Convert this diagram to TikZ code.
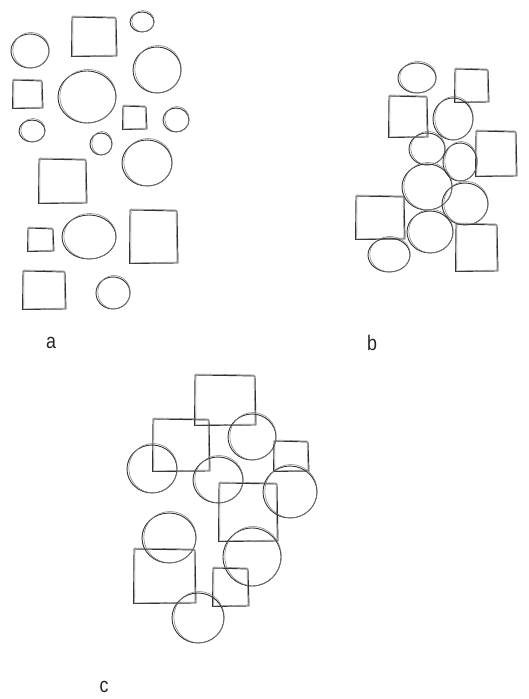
\documentclass[tikz,border=0pt]{standalone}
\usepackage{fontspec}
\setmainfont{Liberation Sans}
\tikzset{
  ink/.style={draw=black!80, line width=0.9pt, line join=round},
  inkb/.style={draw=black!50, line width=0.55pt, line join=round},
  lbl/.style={font=\fontsize{21}{23}\selectfont, text=black!85, inner sep=0pt, xscale=0.85}
}
\newcommand\skc[4]{%
  \draw[ink] (#1,#2) ellipse ({#3*1pt} and {#4*1pt});
  \draw[inkb] (#1+1,#2-0.8) ellipse ({(#3-0.8)*1pt} and {(#4+0.7)*1pt});}
\newcommand\sks[4]{%
  \draw[ink] (#1,#2) -- (#3,#2+1) -- (#3+1,#4) -- (#1-0.5,#4+0.5) -- cycle;
  \draw[inkb] (#1+1,#2-1) -- (#3-1,#2) -- (#3,#4-1) -- (#1+0.7,#4) -- cycle;}
\begin{document}
\begin{tikzpicture}[x=1pt,y=-1pt]
\fill[white] (0,0) rectangle (529,699);
\useasboundingbox (0,0) rectangle (529,699);
% ---- panel a ----
\skc{30}{51}{19}{17}
\sks{72}{17}{116}{56}
\skc{142}{22}{12}{10}
\skc{157}{70}{24}{23}
\sks{13}{80}{42}{108}
\skc{87}{97}{29}{26}
\sks{123}{106}{146}{129}
\skc{176}{120}{13}{12}
\skc{32}{131}{13}{11}
\skc{101}{144}{11}{11}
\sks{39}{159}{86}{203}
\skc{147}{163}{25}{23}
\sks{28}{228}{53}{251}
\skc{89}{237}{27}{22}
\sks{130}{210}{177}{263}
\sks{23}{271}{65}{309}
\skc{113}{293}{17}{16}
% ---- panel b ----
\skc{417}{78}{19}{15}
\sks{455}{69}{488}{102}
\sks{389}{96}{427}{137}
\skc{453}{119}{20}{21}
\sks{476}{131}{516}{176}
\skc{427}{149}{18}{16}
\skc{460}{162}{17}{19}
\skc{427}{187}{25}{23}
\skc{465}{204}{23}{21}
\sks{356}{196}{404}{239}
\skc{430}{232}{23}{21}
\sks{456}{224}{497}{271}
\skc{389}{255}{21}{17}
% ---- panel c ----
\sks{195}{375}{255}{425}
\sks{153}{419}{209}{471}
\skc{252}{437}{24}{23}
\sks{274}{441}{308}{471}
\skc{152}{469}{25}{24}
\skc{218}{480}{25}{23}
\sks{219}{483}{277}{541}
\skc{290}{492}{27}{26}
\skc{169}{538}{27}{25}
\skc{252}{557}{29}{29}
\sks{134}{549}{195}{603}
\sks{213}{568}{248}{606}
\skc{198}{618}{26}{25}
% ---- labels ----
\node[lbl] (la) at (51,343) {a};
\node[lbl] (lb) at (372,343) {b};
\node[lbl] (lc) at (104,687) {c};
\end{tikzpicture}
\end{document}
